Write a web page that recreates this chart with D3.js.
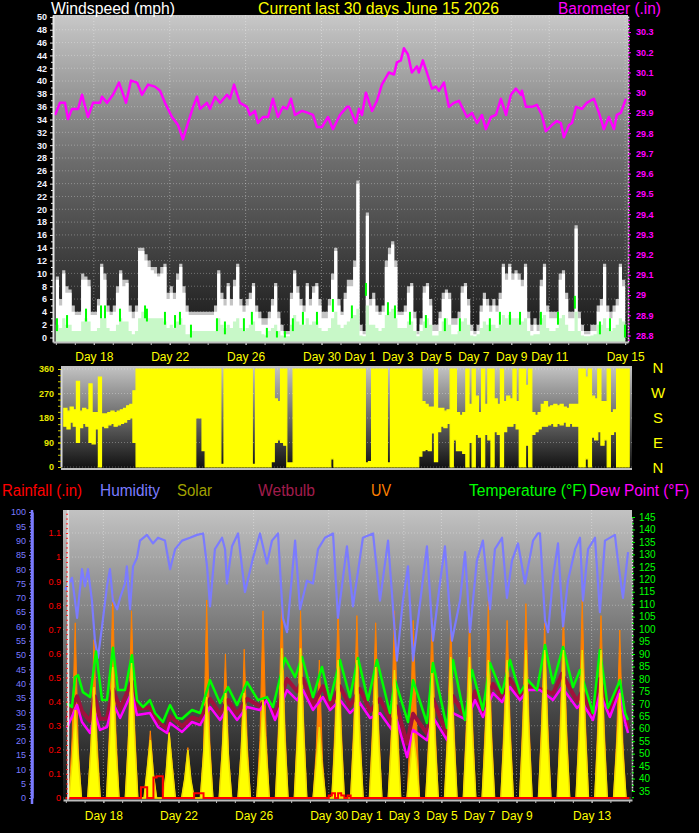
<!DOCTYPE html>
<html><head><meta charset="utf-8">
<script src="https://cdn.jsdelivr.net/npm/d3@7"></script>
<style>
html,body{margin:0;padding:0;background:#000;}
svg{display:block;}
text{font-family:"Liberation Sans",Arial,sans-serif;}
</style></head><body>
<svg id="c" width="699" height="833"></svg>
<script>
// ---------------- DATA ----------------
// time axis in "day numbers": May d = d, June d = 31 + d
const dayDomain = [15.85, 46.15];
const topDayTicks = [18, 22, 26, 30, 32, 34, 36, 38, 40, 42, 46];
const botDayTicks = [18, 22, 26, 30, 32, 34, 36, 38, 40, 44];
const windTicks = [0,2,4,6,8,10,12,14,16,18,20,22,24,26,28,30,32,34,36,38,40,42,44,46,48,50];
const baroTicks = [28.8,28.9,29.0,29.1,29.2,29.3,29.4,29.5,29.6,29.7,29.8,29.9,30.0,30.1,30.2,30.3];
const dirTicks = [0, 90, 180, 270, 360];
const humTicks = [0,5,10,15,20,25,30,35,40,45,50,55,60,65,70,75,80,85,90,95,100];
const rainTicks = [0,0.1,0.2,0.3,0.4,0.5,0.6,0.7,0.8,0.9,1.0,1.1];
const tempTicks = [35,40,45,50,55,60,65,70,75,80,85,90,95,100,105,110,115,120,125,130,135,140,145];
const compass = ["N","W","S","E","N"];

// regular series: samples every 4 hours from May 16 00:00 (6 per day)
const slotStart = 16, slotsPerDay = 6;

const windGust = [
9,5,10,7,7,4, 3.5,3.5,9,9,8,3.5, 3.5,5,11,9,4,3.5, 4,7,10,8,8.5,4,
3,4,13.5,13.5,12,11, 10.5,10,9.5,10,11,6, 7,6,9,11,7,4, 3.5,3.5,3.5,3.5,3.5,3.5,
3.5,3.5,4,10,6,5, 8,5,8,11,5,4, 5,6,8,4,3,2, 2,3,5,8,3,1,
0.5,0.5,6,10,7,5, 4,8,5,7,8,5, 3,3,5,9,13.5,5, 3.5,6,8,8,11,24,
1,0.5,19,5,6,4, 3.5,4,11,13,14.5,11, 3.5,3.5,4,7,8,3, 0.5,2,7,8,5,1,
1,3,6,7,6,2, 2,3,7,8,5,1, 0.5,1,4,6,5,4, 5,4,6,11,9,11,
9,10,9,8,11,3, 1,2,1,8,11,4, 3,3,3,9,10,6, 3,3,17,3,1,0.5,
0.5,1,1,4,5,11, 4,3,4,5,11,8, 5];
const windGustMax = [
9.5,6,10.5,8,7.5,5, 4,4,10,9.5,9,4, 4,6,11.5,10,5,4, 5,8,10.5,9,9,5,
4,5,14,14,13,12, 11,11,10,11,11.5,7, 8,7,10,11.5,8,5, 4,4,4,4,4,4,
4,4,5,10.5,7,6, 8.5,6,9,11.5,6,5, 6,7,8.5,5,4,3, 3,4,6,8.5,4,2,
1,1,7,10.5,8,6, 5,8.5,6,8,8.5,6, 4,4,6,10,14,6, 4,7,9,9,12,24.5,
2,1,19.5,6,7,5, 4,5,12,14,15,12, 4,4,5,8,8.5,4, 1,3,8,8.5,6,2,
2,4,7,7.5,7,3, 3,4,8,8.5,6,2, 1,2,5,7,6,5, 6,5,7,11.5,10,11.5,
10,10.5,10,9,11.5,4, 2,3,2,9,11.5,5, 4,4,4,10,10.5,7, 4,4,17.5,4,2,1,
1,2,2,5,6,11.5, 5,4,5,6,11.5,9, 6];
const windAvg = [
2,1.5,3,2,2,1, 1,1,2.5,3,2.5,1, 1,1.5,3,3,1.5,1, 1,2,3,2.5,2.5,1,
0.5,1,3,4,3.5,3, 3,3,3,3,2.5,1.5, 2,1.5,2.5,3,2,0.5, 0.5,1,1,1,1,1,
1,1,1,3,2,1.5, 2,1.5,2.5,3,1.5,1, 1.5,2,2.5,1,1,0.5, 0.3,1,1.5,2,1,0.3,
0.2,0.2,2,3.5,2.5,2, 2,3,2,2.5,2.5,1.5, 1,1,1.5,3,4,2, 1.5,2,2.5,3,3.5,4.5,
0.3,0.2,5,2,2,1.5, 1,1.5,3.5,4,4.5,3, 1.5,1.5,1.5,2.5,2.5,1, 0.2,1,2.5,3,2,0.3,
0.3,1,2.5,3,2,0.5, 0.5,1,2.5,3,2,0.3, 0.2,0.5,1.5,2.5,2,2, 2,1.5,2,3.5,3,3.5,
3,3,3,2.5,3,1, 0.3,0.5,0.5,3,3.5,1.5, 1,1,1.5,3,3.5,2, 1,1,4,1,0.3,0.2,
0.2,0.3,0.5,2,2,3, 1.5,1,1.5,2,3,2.5, 2];
const windPeakDay = [16.06,16.59,17.59,18.38,18.59,19.38,20.7,20.8,21.75,22.28,22.54,23.12,24.49,24.91,25.91,26.33,27.12,27.65,28.07,28.49,29.02,29.76,30.6,31.6,32.34,33.5,33.87,34.66,35.5,36.5,37.29,38.87,39.4,39.93,40.46,41.56,42.46,43.35,44.67,45.2,45.99];
const windPeakVal = [3,3.5,4.5,5,5,4.5,5,4.5,4,3.5,4,2,3,2.5,3,4,1.5,1,1,3,4,4,6,5,8.5,5.5,5,4,3.5,3,3,3,4,4,4,4,4,6.5,2.5,3,2];

const barometer = [
[15.96,29.89],[16.22,29.95],[16.48,29.95],[16.64,29.87],[16.85,29.92],[17.17,29.92],[17.38,29.99],[17.69,29.88],[17.96,29.95],[18.33,29.95],
[18.43,29.98],[18.70,29.95],[19.01,29.99],[19.33,30.05],[19.70,29.95],[19.96,30.06],[20.28,30.05],[20.54,29.99],[20.86,30.04],[21.22,30.03],
[21.49,30.01],[21.75,29.95],[22.12,29.88],[22.44,29.84],[22.70,29.77],[22.96,29.85],[23.23,29.93],[23.44,29.98],[23.60,29.92],[23.96,29.95],
[24.12,29.92],[24.39,29.98],[24.65,29.95],[25.02,29.99],[25.18,29.97],[25.39,30.04],[25.70,29.95],[26.07,29.93],[26.23,29.89],[26.49,29.91],
[26.65,29.85],[26.91,29.88],[27.18,29.88],[27.44,29.97],[27.70,29.88],[27.97,29.93],[28.18,29.92],[28.39,29.97],[28.60,29.89],[28.97,29.91],
[29.29,29.90],[29.55,29.89],[29.76,29.83],[30.02,29.83],[30.34,29.88],[30.60,29.82],[30.97,29.89],[31.34,29.93],[31.45,29.93],[31.81,29.85],
[31.97,29.92],[32.13,29.89],[32.34,30.00],[32.66,29.91],[32.92,29.96],[33.18,30.04],[33.55,30.10],[33.82,30.09],[33.97,30.15],[34.18,30.16],
[34.34,30.22],[34.55,30.19],[34.76,30.10],[35.03,30.13],[35.13,30.10],[35.34,30.16],[35.55,30.10],[35.82,30.02],[36.03,30.03],[36.19,30.01],
[36.45,30.05],[36.71,29.93],[36.98,29.95],[37.24,29.96],[37.66,29.88],[37.93,29.90],[38.19,29.85],[38.45,29.89],[38.66,29.82],[38.93,29.88],
[39.19,29.89],[39.45,29.97],[39.72,29.89],[39.98,29.99],[40.24,30.02],[40.51,29.99],[40.56,30.01],[40.77,29.93],[41.09,29.93],[41.35,29.94],
[41.61,29.89],[41.82,29.81],[42.14,29.84],[42.40,29.86],[42.61,29.85],[42.77,29.78],[43.04,29.84],[43.20,29.85],[43.41,29.93],[43.72,29.92],
[43.98,29.95],[44.35,29.97],[44.62,29.90],[44.88,29.82],[45.14,29.88],[45.41,29.82],[45.56,29.89],[45.77,29.90],[46.04,29.97]];

const dirLo = [
150,140,165,150,90,145, 160,150,90,85,140,0, 150,145,155,160,150,155, 160,165,175,180,90,0,
0,0,0,0,0,0, 0,0,0,0,0,0, 0,0,0,0,0,0, 180,180,60,0,0,0,
0,0,0,0,0,0, 0,0,0,0,0,0, 0,0,0,0,0,0, 20,90,100,90,80,0,
0,0,0,0,0,0, 0,0,0,0,0,0, 0,30,0,0,0,0, 0,0,0,0,0,0,
0,0,0,0,0,0, 0,0,0,0,0,0, 0,0,0,0,0,40, 60,65,60,125,20,130,
150,145,160,0,100,60, 60,50,0,90,0,120, 110,0,120,100,0,130, 120,0,130,150,150,160,
140,0,0,80,0,120, 130,140,150,150,155,160, 150,160,155,165,150,160, 150,150,0,0,30,0,
110,100,130,80,100,0, 120,130,0,0,0,0, 0];
const dirHi = [
215,205,220,210,315,205, 215,210,305,200,200,330, 195,195,200,205,200,205, 210,215,225,230,280,360,
360,360,360,360,360,360, 360,360,360,360,360,360, 360,360,360,360,360,360, 360,360,360,360,360,360,
360,360,10,360,360,360, 360,360,360,360,360,360, 10,360,360,360,360,360, 360,250,240,360,360,15,
15,360,360,360,360,360, 360,360,360,360,360,360, 360,360,360,360,360,360, 360,360,360,360,360,360,
15,20,360,360,360,360, 360,15,360,360,360,360, 360,360,360,360,360,360, 240,230,220,220,360,215,
215,205,210,360,360,200, 190,200,360,230,360,260, 200,360,230,360,360,250, 230,360,240,260,250,360,
240,360,360,300,360,200, 190,200,230,240,220,225, 230,225,230,220,215,230, 230,230,360,360,330,360,
260,250,360,240,240,360, 200,210,360,360,360,360, 360];

const humidity = [
[15.96,72.7],[16.33,77],[16.49,69],[16.60,63],[16.86,80],[17.02,74],[17.18,80],[17.39,69],[17.55,55],[17.71,49],
[17.93,60],[18.19,74],[18.35,80],[18.51,69],[18.73,66],[18.89,70],[19.15,75],[19.25,81],[19.42,66],[19.58,81],
[19.79,84],[19.95,90],[20.32,92],[20.64,89],[20.91,91],[21.28,90],[21.55,80],[21.82,87],[22.19,90],[22.61,91],
[22.99,92],[23.31,92.5],[23.52,81],[23.68,67],[23.94,87],[24.32,91],[24.48,87],[24.58,75],[24.85,88],[25.17,92.5],
[25.54,72],[25.97,84],[26.34,92.5],[26.71,82],[26.98,90],[27.30,92.5],[27.56,63],[27.78,58],[28.21,90],[28.47,66],
[28.84,76],[29.16,75],[29.43,87],[29.80,91],[30.23,92.5],[30.49,63],[30.97,88],[31.29,67],[31.82,91],[32.36,92.5],
[32.73,69],[33.16,90],[33.63,48],[33.95,69],[34.22,81],[34.49,48],[35.23,88],[35.55,55],[35.92,75],[36.19,88],
[36.56,55],[36.99,69],[37.26,86],[37.52,58],[37.89,83],[38.21,90],[38.59,66],[38.85,87],[39.23,91],[39.49,70],
[39.76,83],[40.08,89],[40.45,75],[40.88,90],[41.14,92.5],[41.25,92.5],[41.52,62],[41.68,58],[41.94,77],[42.21,89],
[42.48,60],[42.74,76],[43.12,87],[43.38,91],[43.54,69],[43.81,87],[44.18,91],[44.44,65],[44.71,90],[45.24,92],
[45.40,83],[45.67,70],[45.94,86]];

const temperature = [
[16.06,70.3],[16.33,68.7],[16.49,80.7],[16.65,81.5],[16.91,74.7],[17.29,72.7],[17.61,91],[17.93,71.5],[18.19,71.5],[18.51,92.5],
[18.78,75.5],[19.15,75.5],[19.52,89.5],[19.79,71.5],[20.11,68.7],[20.48,71.5],[20.75,66.3],[21.17,62.7],[21.55,69.5],[21.92,64.3],
[22.19,64],[22.72,67.5],[23.15,66.3],[23.68,79.5],[24.21,70.3],[24.64,76.7],[25.12,69.5],[25.65,78.7],[26.23,71.5],[26.71,72.7],
[27.03,68.7],[27.67,88.4],[28.21,80.7],[28.58,88.8],[29.16,72.7],[29.64,84.8],[30.07,71.5],[30.60,87.6],[31.13,72.7],[31.56,88.4],
[32.09,71.5],[32.57,87.6],[33.26,66.3],[33.53,79.5],[34.22,62.7],[34.49,79.5],[35.23,62.3],[35.55,86.4],[36.30,60.3],[36.62,87.6],
[37.26,63.5],[37.63,83.6],[38.21,67.5],[38.59,86.4],[39.23,74.3],[39.65,87.6],[40.18,74.3],[40.61,79.5],[41.09,75.5],[41.52,93.6],
[41.94,78.3],[42.48,92.8],[43.01,76.7],[43.38,83.6],[44.07,66.3],[44.44,91.6],[44.87,68.3],[45.51,79.5],[45.78,66.3],[45.94,63.5]];

const dewPoint = [
[16.06,60.3],[16.60,69.5],[16.86,62.7],[17.29,58.3],[17.55,66.3],[17.82,59.5],[18.19,60.7],[18.51,70.3],[18.89,64.3],[19.52,74.7],
[19.79,65.5],[20.48,66.3],[20.91,60.7],[21.39,58.3],[21.55,62.3],[22.19,58.7],[22.72,62.7],[23.15,61.5],[23.68,68.7],[24.21,63.5],
[24.64,68.5],[25.12,63.5],[25.65,68.7],[26.34,67.5],[26.71,71.5],[27.14,63.5],[27.78,75.5],[28.31,71.5],[28.63,75.5],[29.16,67.5],
[29.69,72.7],[30.07,67.5],[30.60,71.5],[31.13,66.3],[31.66,70.3],[32.20,64.3],[32.73,66.3],[33.37,59.5],[33.63,63.5],[34.17,48.6],
[34.49,59.5],[35.23,55.4],[35.55,64.7],[36.30,55.4],[36.62,66.3],[37.36,63.5],[37.79,71.5],[38.21,64.7],[38.75,74.3],[39.23,70.7],
[39.65,76.7],[40.18,71.5],[40.61,75.5],[41.25,75.5],[41.94,71.5],[42.42,76.7],[43.22,68.3],[43.49,70.5],[44.07,63.5],[44.44,74.3],
[44.97,64.7],[45.51,75.5],[45.78,62.7],[45.94,58.3]];

const wetbulb = [
[16.06,64],[16.60,73],[16.86,67],[17.29,63],[17.55,73],[17.82,64],[18.19,64],[18.51,76],[18.89,68],[19.52,79],
[19.79,68],[20.48,68.5],[20.91,63],[21.39,60],[21.55,65],[22.19,61],[22.72,64.5],[23.15,63.5],[23.68,72],[24.21,66],
[24.64,71.5],[25.12,66],[25.65,72],[26.34,69],[26.71,72],[27.14,65.5],[27.78,80],[28.31,75],[28.63,80],[29.16,69.5],
[29.69,77],[30.07,69],[30.60,77],[31.13,69],[31.66,76],[32.20,67],[32.73,72],[33.37,62],[33.63,69],[34.17,54],
[34.49,66],[35.23,58],[35.55,72],[36.30,57.5],[36.62,73],[37.36,63.5],[37.79,75],[38.21,66],[38.75,78],[39.23,72],
[39.65,80],[40.18,73],[40.61,77],[41.25,76],[41.94,74],[42.42,82],[43.22,71],[43.49,75],[44.07,65],[44.44,80],
[44.97,66.5],[45.51,77],[45.78,64.5],[45.94,60]];

const solar = [
0,0,180,458,200,0, 0,0,250,578,220,0, 0,0,300,682,260,0, 0,0,280,703,300,0,
0,0,150,302,120,0, 0,0,120,338,160,0, 0,0,100,250,90,0, 0,0,220,526,240,0,
0,0,240,547,200,0, 0,0,230,547,210,0, 0,0,200,510,250,0, 0,0,320,780,300,0,
0,0,300,780,330,0, 0,0,180,370,150,0, 0,0,290,719,300,0, 0,0,310,719,280,0,
0,0,300,682,290,0, 0,0,280,667,300,0, 0,0,160,339,200,0, 0,0,270,651,290,0,
0,0,300,734,310,0, 0,0,320,734,300,0, 0,0,300,719,290,0, 0,0,310,719,300,0,
0,0,330,771,320,0, 0,0,320,771,310,0, 0,0,330,771,300,0, 0,0,310,771,330,0,
0,0,320,771,310,0, 0,0,250,547,230,0, 0];
const uv = [
0,0,2.5,7.3,2.0,0, 0,0,2.2,6.6,2.4,0, 0,0,3.0,8.5,2.8,0, 0,0,2.6,7.8,3.0,0,
0,0,1.2,2.8,1.0,0, 0,0,1.0,2.75,1.4,0, 0,0,0.8,2.1,0.7,0, 0,0,2.0,8.25,2.4,0,
0,0,2.2,6.0,1.8,0, 0,0,2.0,6.2,2.2,0, 0,0,2.4,7.8,2.6,0, 0,0,3.2,8.1,3.0,0,
0,0,3.0,7.8,3.2,0, 0,0,2.0,5.75,1.6,0, 0,0,3.0,8.0,3.0,0, 0,0,3.1,7.6,2.8,0,
0,0,3.0,7.3,2.9,0, 0,0,2.8,7.8,3.2,0, 0,0,2.6,7.4,3.4,0, 0,0,2.7,7.5,3.0,0,
0,0,3.0,7.3,3.1,0, 0,0,3.2,7.6,3.0,0, 0,0,3.0,8.2,2.9,0, 0,0,3.1,7.4,3.0,0,
0,0,3.3,8.1,3.2,0, 0,0,3.2,7.3,3.1,0, 0,0,3.3,7.8,3.0,0, 0,0,3.1,8.25,3.3,0,
0,0,3.2,7.6,3.1,0, 0,0,2.5,7.0,2.3,0, 0];
const rainfall = [
0,0,0,0,0,0, 0,0,0,0,0,0, 0,0,0,0,0,0, 0,0,0,0,0,0,
0.045,0.045,0,0,0.085,0.09, 0.09,0,0,0,0,0, 0,0,0,0,0,0.02, 0.02,0.02,0,0,0,0,
0,0,0,0,0,0, 0,0,0,0,0,0, 0,0,0,0,0,0, 0,0,0,0,0,0,
0,0,0,0,0,0, 0,0,0,0,0,0, 0.01,0.02,0,0.02,0.01,0, 0.01,0,0,0,0,0,
0,0,0,0,0,0, 0,0,0,0,0,0, 0,0,0,0,0,0, 0,0,0,0,0,0,
0,0,0,0,0,0, 0,0,0,0,0,0, 0,0,0,0,0,0, 0,0,0,0,0,0,
0,0,0,0,0,0, 0,0,0,0,0,0, 0,0,0,0,0,0, 0,0,0,0,0,0,
0,0,0,0,0,0, 0,0,0,0,0,0, 0];

// ---------------- DRAWING ----------------
const FONT = "'Liberation Sans', Arial, sans-serif";
const svg = d3.select("#c");
svg.append("rect").attr("width",699).attr("height",833).attr("fill","#000");
const defs = svg.append("defs");
function vgrad(id, stops){
  const g = defs.append("linearGradient").attr("id",id).attr("x1",0).attr("y1",0).attr("x2",0).attr("y2",1);
  stops.forEach(s => g.append("stop").attr("offset",s[0]).attr("stop-color",s[1]));
}
vgrad("gTop", [[0,"#c8c8c8"],[0.45,"#6c6c6c"],[1,"#161616"]]);
vgrad("gMid", [[0,"#c4c4c4"],[0.5,"#6a6a6a"],[1,"#101010"]]);
vgrad("gBot", [[0,"#c2c2c2"],[0.5,"#686868"],[1,"#121212"]]);
function clip(id,x,y,w,h){ defs.append("clipPath").attr("id",id).append("rect").attr("x",x).attr("y",y).attr("width",w).attr("height",h); }
const slotDay = i => slotStart + i / slotsPerDay;
const dayLabel = d => "Day " + (d > 31 ? d - 31 : d);

function styleAxis(g, lineColor, textColor, font, lineWidth){
  g.select(".domain").attr("stroke", lineColor).attr("stroke-width", lineWidth || 1);
  g.selectAll(".tick line").attr("stroke", lineColor);
  g.selectAll(".tick text").attr("fill", textColor).style("font", font);
}
function minorAxis(axis, x, y, values, color, size){
  const g = svg.append("g").attr("transform",`translate(${x},${y})`)
    .call(axis.tickValues(values).tickFormat("").tickSize(size).tickSizeOuter(0));
  g.select(".domain").remove();
  g.selectAll(".tick line").attr("stroke", color);
}

// ===== TOP PANEL =====
const TX0=53, TX1=628, TY0=15, TY1=342;
const xT = d3.scaleLinear().domain(dayDomain).range([TX0,TX1]);
const yW = d3.scaleLinear().domain([-0.7,50.3]).range([TY1,TY0]);
const yB = d3.scaleLinear().domain([28.768,30.384]).range([TY1,TY0]);
clip("cTop",TX0,TY0,TX1-TX0,TY1-TY0);
svg.append("rect").attr("x",TX0).attr("y",TY0).attr("width",TX1-TX0).attr("height",TY1-TY0).attr("fill","url(#gTop)");
const topG = svg.append("g").attr("clip-path","url(#cTop)");
windTicks.forEach(v => topG.append("line").attr("x1",TX0).attr("x2",TX1).attr("y1",yW(v)).attr("y2",yW(v))
  .attr("stroke","#ffffff").attr("stroke-opacity",0.3).attr("stroke-dasharray","1,2"));
topDayTicks.forEach(d => topG.append("line").attr("x1",xT(d)).attr("x2",xT(d)).attr("y1",TY0).attr("y2",TY1)
  .attr("stroke","#ffffff").attr("stroke-opacity",0.35).attr("stroke-dasharray","1,2"));
const windArea = arr => d3.area().x((d,i)=>xT(slotDay(i))).y0(yW(-0.7)).y1(d=>yW(d)).curve(d3.curveStepAfter)(arr);
topG.append("path").attr("d",windArea(windGustMax)).attr("fill","#c4c4c4");
topG.append("path").attr("d",windArea(windGust)).attr("fill","#ffffff");
topG.append("path").attr("d",windArea(windAvg)).attr("fill","#c8f8c8");
windPeakDay.forEach((d,i)=>{
  const v = windPeakVal[i];
  topG.append("rect").attr("x",xT(d)-1).attr("width",2).attr("y",yW(v)).attr("height",yW(Math.max(0,v-2))-yW(v)).attr("fill","#00ff00");
});
topG.append("path").attr("d", d3.line().x(d=>xT(d[0])).y(d=>yB(d[1]))(barometer))
  .attr("fill","none").attr("stroke","#ff00ff").attr("stroke-width",2.5).attr("stroke-linejoin","round");

// axes top
const axWL = svg.append("g").attr("transform",`translate(${TX0},0)`)
  .call(d3.axisLeft(yW).tickValues(windTicks).tickSize(3).tickSizeOuter(0).tickPadding(3));
styleAxis(axWL,"#e6e6e6","#f2f2ff","bold 9px "+FONT,2);
minorAxis(d3.axisLeft(yW), TX0, 0, d3.range(1,50,2), "#e6e6e6", 2);
const axBR = svg.append("g").attr("transform",`translate(${TX1},0)`)
  .call(d3.axisRight(yB).tickValues(baroTicks).tickSize(3).tickSizeOuter(0).tickPadding(5).tickFormat(d=>String(+d.toFixed(1))));
styleAxis(axBR,"#e6e6e6","#ff00ff","bold 9px "+FONT,1.5);
axBR.selectAll(".tick line").attr("stroke","#ff00ff");
axBR.select(".domain").attr("stroke-dasharray","2,1");
minorAxis(d3.axisRight(yB), TX1, 0, d3.range(28.78,30.38,0.02), "#ff00ff", 2);
const axTX = svg.append("g").attr("transform",`translate(0,${TY1})`)
  .call(d3.axisBottom(xT).tickValues(topDayTicks).tickSize(3).tickSizeOuter(0).tickPadding(7).tickFormat(dayLabel));
styleAxis(axTX,"#bdbdbd","#ffff00","12px "+FONT,2);
minorAxis(d3.axisBottom(xT), 0, TY1, d3.range(16,47,1), "#bdbdbd", 3);

// titles
svg.append("text").attr("x",51).attr("y",14).attr("fill","#ffffff").style("font","16px "+FONT)
  .attr("textLength",124).attr("lengthAdjust","spacingAndGlyphs").text("Windspeed (mph)");
svg.append("text").attr("x",258).attr("y",14).attr("fill","#ffff00").style("font","16px "+FONT)
  .attr("textLength",241).attr("lengthAdjust","spacingAndGlyphs").text("Current last 30 days June 15 2026");
svg.append("text").attr("x",558).attr("y",14).attr("fill","#ff00ff").style("font","16px "+FONT)
  .attr("textLength",103).attr("lengthAdjust","spacingAndGlyphs").text("Barometer (.in)");

// ===== MIDDLE PANEL =====
const MX0=61, MX1=632, MY0=366, MY1=469;
const xM = d3.scaleLinear().domain(dayDomain).range([MX0,MX1]);
const yD = d3.scaleLinear().domain([0,360]).range([467,369]);
clip("cMid",MX0,MY0,MX1-MX0,MY1-MY0);
svg.append("rect").attr("x",MX0).attr("y",MY0).attr("width",MX1-MX0).attr("height",MY1-MY0).attr("fill","url(#gMid)");
const midG = svg.append("g").attr("clip-path","url(#cMid)");
dirTicks.forEach(v => midG.append("line").attr("x1",MX0).attr("x2",MX1).attr("y1",yD(v)).attr("y2",yD(v))
  .attr("stroke","#ffffff").attr("stroke-opacity",0.3).attr("stroke-dasharray","1,2"));
midG.append("path").attr("d", d3.area().x((d,i)=>xM(slotDay(i))).y0((d,i)=>yD(dirLo[i])).y1((d,i)=>yD(dirHi[i])).curve(d3.curveStepAfter)(dirHi))
  .attr("fill","#ffff00").attr("stroke","#ffff00").attr("stroke-width",1.2);
const axDL = svg.append("g").attr("transform",`translate(${MX0},0)`)
  .call(d3.axisLeft(yD).tickValues(dirTicks).tickSize(3).tickSizeOuter(0).tickPadding(4));
styleAxis(axDL,"#d8d8d8","#e6e600","bold 9px "+FONT,2);
axDL.selectAll(".tick line").attr("stroke","#e6e600");
minorAxis(d3.axisLeft(yD), MX0, 0, d3.range(22.5,360,22.5), "#c8c800", 3);
svg.append("line").attr("x1",MX0).attr("x2",MX1).attr("y1",MY1).attr("y2",MY1).attr("stroke","#bdbdbd").attr("stroke-width",2);
const compassY = d3.scaleLinear().domain([0,4]).range([373,473]);
compass.forEach((c,i)=> svg.append("text").attr("x",658).attr("y",compassY(i)).attr("text-anchor","middle")
  .attr("fill","#ffff00").style("font","15px "+FONT).text(c));

// ===== LEGEND ROW =====
const legend = [
  ["Rainfall (.in)","#ff0000",2,80],["Humidity","#7b7bff",100,60],["Solar","#a0a000",177,35],
  ["Wetbulb","#a01c4c",258,57],["UV","#ff8000",371,20],["Temperature (°F)","#00ff00",469,118],["Dew Point (°F)","#ff00ff",589,100]];
legend.forEach(l => svg.append("text").attr("x",l[2]).attr("y",496).attr("fill",l[1]).style("font","16px "+FONT)
  .attr("textLength",l[3]).attr("lengthAdjust","spacingAndGlyphs").text(l[0]));

// ===== BOTTOM PANEL =====
const BX0=63, BX1=632, BY0=510, BY1=800;
const xB = d3.scaleLinear().domain(dayDomain).range([BX0,BX1]);
const yH = d3.scaleLinear().domain([0,100]).range([798,512]);
const yR = d3.scaleLinear().domain([0,1.1]).range([798,533]);
const yTm = d3.scaleLinear().domain([35,145]).range([791,517]);
const yS = d3.scaleLinear().domain([0,1500]).range([798,510]);
const yU = d3.scaleLinear().domain([0,12]).range([798,510]);
clip("cBot",BX0,BY0,BX1-BX0,BY1-BY0);
svg.append("rect").attr("x",BX0).attr("y",BY0).attr("width",BX1-BX0).attr("height",BY1-BY0).attr("fill","url(#gBot)");
const botG = svg.append("g").attr("clip-path","url(#cBot)");
rainTicks.forEach(v => botG.append("line").attr("x1",BX0).attr("x2",BX1).attr("y1",yR(v)).attr("y2",yR(v))
  .attr("stroke","#ffffff").attr("stroke-opacity",0.3).attr("stroke-dasharray","1,2"));
botDayTicks.forEach(d => botG.append("line").attr("x1",xB(d)).attr("x2",xB(d)).attr("y1",BY0).attr("y2",BY1)
  .attr("stroke","#ffffff").attr("stroke-opacity",0.35).attr("stroke-dasharray","1,2"));
botG.append("path").attr("d", d3.area().x((d,i)=>xB(slotDay(i))).y0(798).y1(d=>yU(d)).curve(d3.curveLinear)(uv))
  .attr("fill","#ff8000").attr("stroke","#ff8000").attr("stroke-width",1);
botG.append("path").attr("d", d3.line().x(d=>xB(d[0])).y(d=>yH(d[1]))(humidity))
  .attr("fill","none").attr("stroke","#7b7bff").attr("stroke-width",2.2).attr("stroke-linejoin","round");
botG.append("path").attr("d", d3.line().x(d=>xB(d[0])).y(d=>yTm(d[1]))(wetbulb))
  .attr("fill","none").attr("stroke","#a0103c").attr("stroke-width",4).attr("stroke-linejoin","round");
botG.append("path").attr("d", d3.line().x(d=>xB(d[0])).y(d=>yTm(d[1]))(dewPoint))
  .attr("fill","none").attr("stroke","#ff00ff").attr("stroke-width",2.5).attr("stroke-linejoin","round");
botG.append("path").attr("d", d3.line().x(d=>xB(d[0])).y(d=>yTm(d[1]))(temperature))
  .attr("fill","none").attr("stroke","#00ff00").attr("stroke-width",2.5).attr("stroke-linejoin","round");
botG.append("path").attr("d", d3.area().x((d,i)=>xB(slotDay(i))).y0(798).y1(d=>yS(d)).curve(d3.curveLinear)(solar))
  .attr("fill","#ffff00").attr("stroke","#f0e000").attr("stroke-width",1.5);
botG.append("path").attr("d", d3.line().x((d,i)=>xB(slotDay(i))).y(d=>yR(d)).curve(d3.curveStepAfter)(rainfall))
  .attr("fill","none").attr("stroke","#ff0000").attr("stroke-width",2);

// bottom axes
const axH = svg.append("g").attr("transform","translate(32,0)")
  .call(d3.axisLeft(yH).tickValues(humTicks).tickSize(3).tickSizeOuter(0).tickPadding(3));
styleAxis(axH,"#7b7bff","#7b7bff","9px "+FONT,2.5);
svg.append("line").attr("x1",32).attr("x2",32).attr("y1",BY0).attr("y2",BY1+4).attr("stroke","#7b7bff").attr("stroke-width",2.5);
minorAxis(d3.axisLeft(yH), 32, 0, d3.range(1,100,1).filter(v=>v%5), "#7b7bff", 2);
const axR = svg.append("g").attr("transform","translate(68,0)")
  .call(d3.axisLeft(yR).tickValues(rainTicks).tickSize(2).tickSizeOuter(0).tickPadding(5).tickFormat(d=>String(+d.toFixed(1))));
styleAxis(axR,"#e8e8e8","#ff0000","9px "+FONT,1.5);
axR.selectAll(".tick line").attr("stroke","#ff0000");
svg.append("line").attr("x1",68).attr("x2",68).attr("y1",BY0).attr("y2",BY1).attr("stroke","#e8e8e8").attr("stroke-width",1.5);
minorAxis(d3.axisLeft(yR), 68, 0, d3.range(0.02,1.19,0.02), "#ff2020", 2);
const axTm = svg.append("g").attr("transform",`translate(${BX1},0)`)
  .call(d3.axisRight(yTm).tickValues(tempTicks).tickSize(3).tickSizeOuter(0).tickPadding(4));
styleAxis(axTm,"#e6e6e6","#00ff00","10px "+FONT,1.5);
axTm.selectAll(".tick line").attr("stroke","#00ff00");
axTm.select(".domain").attr("stroke-dasharray","2,1");
minorAxis(d3.axisRight(yTm), BX1, 0, d3.range(32.5,147,5), "#00ff00", 2);
const axBX = svg.append("g").attr("transform",`translate(0,${BY1})`)
  .call(d3.axisBottom(xB).tickValues(botDayTicks).tickSize(3).tickSizeOuter(0).tickPadding(8).tickFormat(dayLabel));
styleAxis(axBX,"#bdbdbd","#ffff00","12px "+FONT,2);
minorAxis(d3.axisBottom(xB), 0, BY1, d3.range(16,47,1), "#bdbdbd", 3);
</script>
</body></html>
